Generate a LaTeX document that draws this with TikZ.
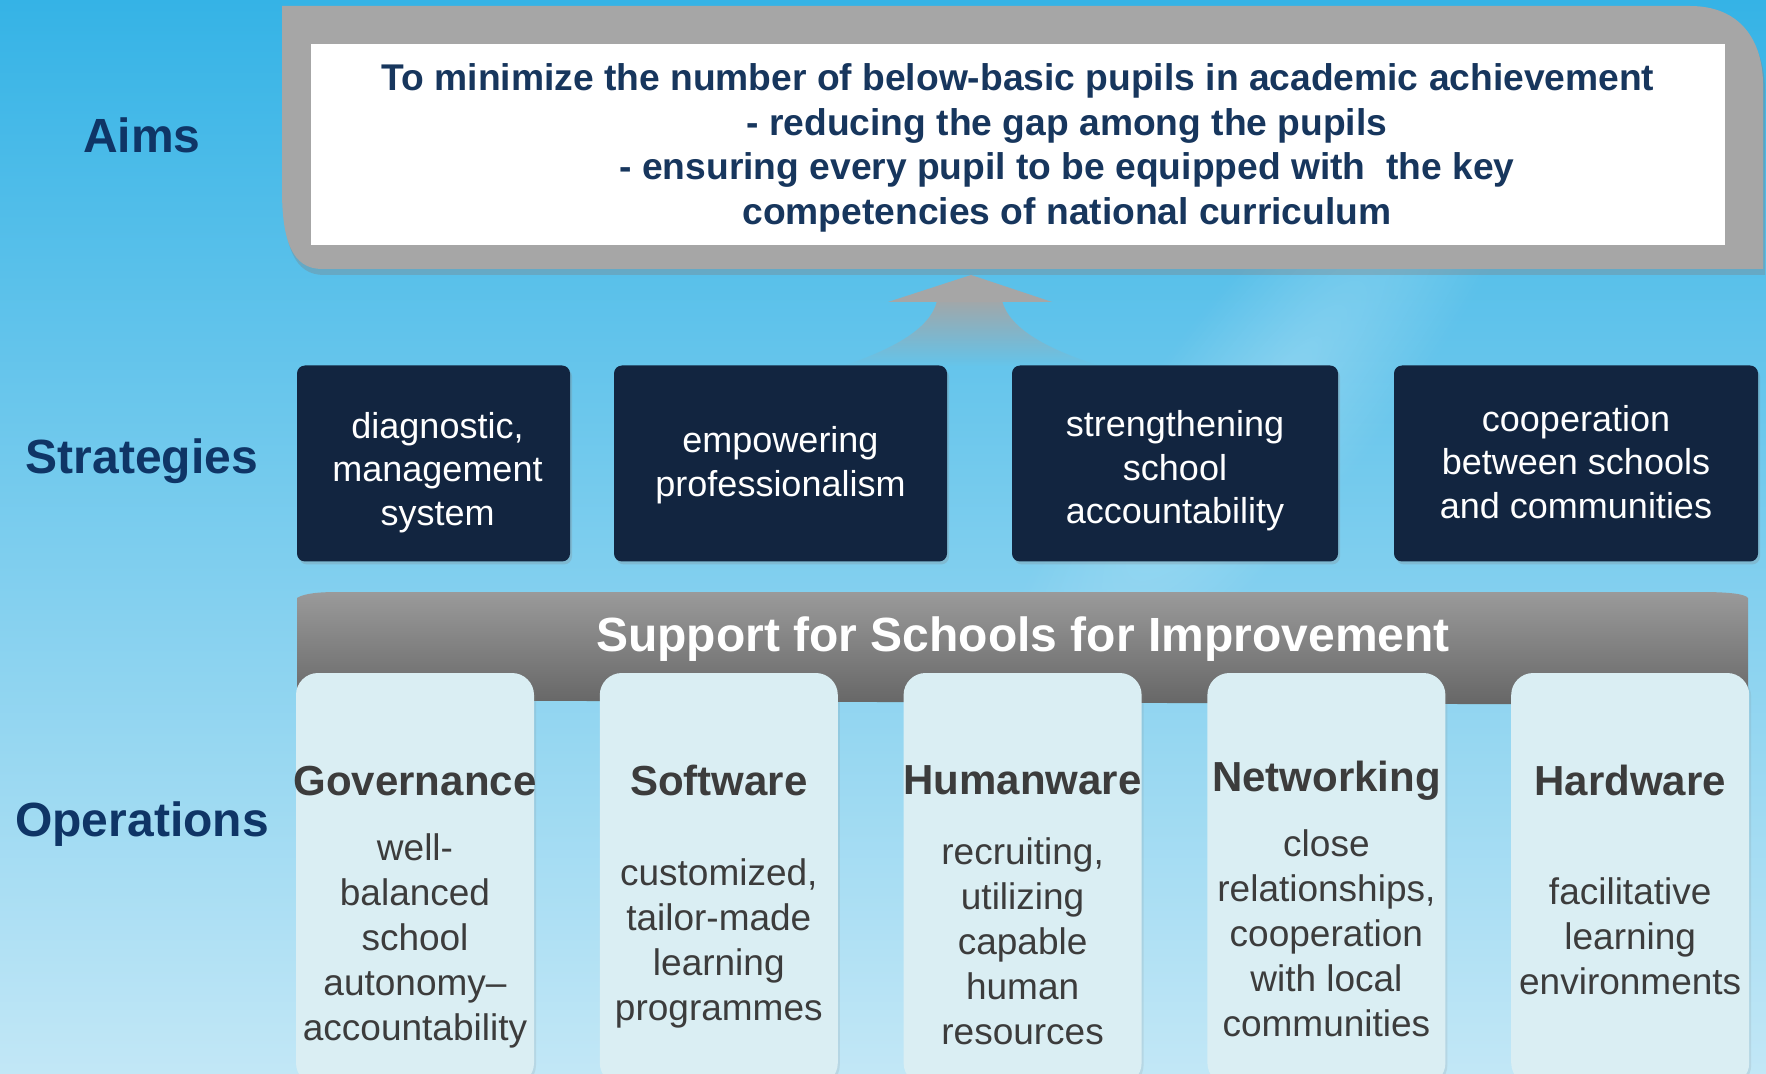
\documentclass[tikz,border=0pt]{standalone}
\usepackage{fontspec}
\setmainfont{Liberation Sans}
\usetikzlibrary{positioning,calc,fadings,shadows}
\definecolor{skytop}{HTML}{35B3E6}
\definecolor{skymid}{HTML}{A2DBF2}
\definecolor{skylow}{HTML}{C2E7F6}
\definecolor{labelblue}{HTML}{0F3566}
\definecolor{aimnavy}{HTML}{17365D}
\definecolor{framegray}{HTML}{A6A6A6}
\definecolor{stratnavy}{HTML}{122540}
\definecolor{bandtop}{HTML}{9A9A9A}
\definecolor{bandlow}{HTML}{666666}
\definecolor{opfill}{HTML}{DAEEF3}
\definecolor{optext}{HTML}{3C3C3C}
\tikzfading[name=shaft fade, top color=transparent!5, bottom color=transparent!100]
\tikzfading[name=soft glow, inner color=transparent!40, outer color=transparent!100]

\begin{document}
\begin{tikzpicture}[
  x=0.5pt, y=-0.5pt,
  layerlabel/.style={font=\fontsize{24pt}{28pt}\selectfont\bfseries, text=labelblue},
  aimtext/.style={align=center, text=aimnavy, inner sep=0pt,
    font=\fontsize{18.6pt}{22.35pt}\selectfont\bfseries},
  strategy/.style={fill=stratnavy, rounded corners=4pt, minimum height=98pt, inner sep=0pt,
    drop shadow={opacity=0.25, shadow xshift=1pt, shadow yshift=-1.5pt}},
  strattext/.style={text=white, align=center, font=\fontsize{18pt}{21.7pt}\selectfont},
  operation/.style={fill=opfill, rounded corners=11pt, minimum width=119pt,
    minimum height=206pt, inner sep=0pt,
    drop shadow={opacity=0.15, shadow xshift=1pt, shadow yshift=-1pt}},
  optitle/.style={font=\fontsize{21pt}{25pt}\selectfont\bfseries, text=optext},
  opbody/.style={font=\fontsize{18.5pt}{22.5pt}\selectfont, text=optext, align=center},
]
  \useasboundingbox (0,0) rectangle (1766,1074);
  \clip (0,0) rectangle (1766,1074);
  % sky backdrop with a soft light streak
  \shade[top color=skytop, middle color=skymid, bottom color=skylow]
    (0,0) rectangle (1766,1074);
  \begin{scope}[transform canvas={shift={(1270,400)}, rotate=52}]
    \fill[white, opacity=0.4, path fading=soft glow] (0,0) ellipse [x radius=460, y radius=110];
  \end{scope}

  % row labels
  \node[layerlabel] (aims-label) at (142,135) {Aims};
  \node[layerlabel] (strategies-label) at (142,461.5) {Strategies};
  \node[layerlabel] (operations-label) at (142,824.5) {Operations};

  % aims frame and statement
  \fill[framegray, drop shadow={opacity=0.35, shadow xshift=1pt, shadow yshift=-3pt}]
    (282,6) -- (1690,6) .. controls (1740,6) and (1763,40) .. (1763,85)
    -- (1763,269) -- (322,269) .. controls (292,269) and (282,240) .. (282,190) -- cycle;
  \node[fill=white, minimum width=707pt, minimum height=100.5pt, inner sep=0pt]
    (aim-box) at (1018,144.5) {};
  \node[aimtext] (aim-text) at ($(aim-box)+(0,3.5)$)
    {To minimize the number of below-basic pupils in academic achievement\\
     \hspace*{49pt}- reducing the gap among the pupils\\
     \hspace*{49pt}- ensuring every pupil to be equipped with \ the key\\
     \hspace*{49pt}competencies of national curriculum};

  % upward arrow into the aims
  \coordinate (arrow-tip) at (971,275);
  \fill[framegray, path fading=shaft fade]
    (937,301) .. controls (930,330) and (890,350) .. (843,366)
    -- (1100,366) .. controls (1050,350) and (1010,330) .. (1002,301) -- cycle;
  \fill[framegray] (arrow-tip) -- (1052,302) -- (888,302) -- cycle;

  % strategies
  \node[strategy, minimum width=136.5pt] (diagnostic) at (433.5,463.5) {};
  \node[strategy, minimum width=166.5pt] (empowering) at (780.5,463.5) {};
  \node[strategy, minimum width=163pt] (strengthening) at (1175,463.5) {};
  \node[strategy, minimum width=182pt] (cooperation) at (1576,463.5) {};
  \node[strattext] (diagnostic-text) at ($(diagnostic)+(4,9)$)
    {diagnostic,\\management\\system};
  \node[strattext] (empowering-text) at ($(empowering)+(0,1.5)$)
    {empowering\\professionalism};
  \node[strattext] (strengthening-text) at ($(strengthening)+(0,7.5)$)
    {strengthening\\school\\accountability};
  \node[strattext] (cooperation-text) at ($(cooperation)+(0,-1.5)$)
    {cooperation\\between schools\\and communities};

  % support band
  \shade[top color=bandtop, bottom color=bandlow]
    (297,700) -- (297,598) .. controls (305,593) and (320,592) .. (340,592)
    -- (1700,592) .. controls (1730,592) and (1745,594) .. (1748,598)
    -- (1748,705) -- cycle;
  \node[font=\fontsize{24pt}{28pt}\selectfont\bfseries, text=white]
    (support-title) at (1023,639.5) {Support for Schools for Improvement};

  % operations
  \node[operation] (governance) at (415,879) {};
  \node[operation, right=32.5pt of governance] (software) {};
  \node[operation, right=32.5pt of software] (humanware) {};
  \node[operation, right=32.5pt of humanware] (networking) {};
  \node[operation, right=32.5pt of networking] (hardware) {};

  \node[optitle] (governance-title) at ($(governance.north)+(0,108)$) {Governance};
  \node[optitle] (software-title) at ($(software.north)+(0,108)$) {Software};
  \node[optitle] (humanware-title) at ($(humanware.north)+(0,108)$) {Humanware};
  \node[optitle] (networking-title) at ($(networking.north)+(0,108)$) {Networking};
  \node[optitle] (hardware-title) at ($(hardware.north)+(0,108)$) {Hardware};

  \node[opbody] (governance-body) at ($(governance.north)+(0,268.5)$)
    {well-\\balanced\\school\\autonomy--\\accountability};
  \node[opbody] (software-body) at ($(software.north)+(0,270.5)$)
    {customized,\\tailor-made\\learning\\programmes};
  \node[opbody] (humanware-body) at ($(humanware.north)+(0,268.5)$)
    {recruiting,\\utilizing\\capable\\human\\resources};
  \node[opbody] (networking-body) at ($(networking.north)+(0,261)$)
    {close\\relationships,\\cooperation\\with local\\communities};
  \node[opbody] (hardware-body) at ($(hardware.north)+(0,264)$)
    {facilitative\\learning\\environments};
\end{tikzpicture}
\end{document}
